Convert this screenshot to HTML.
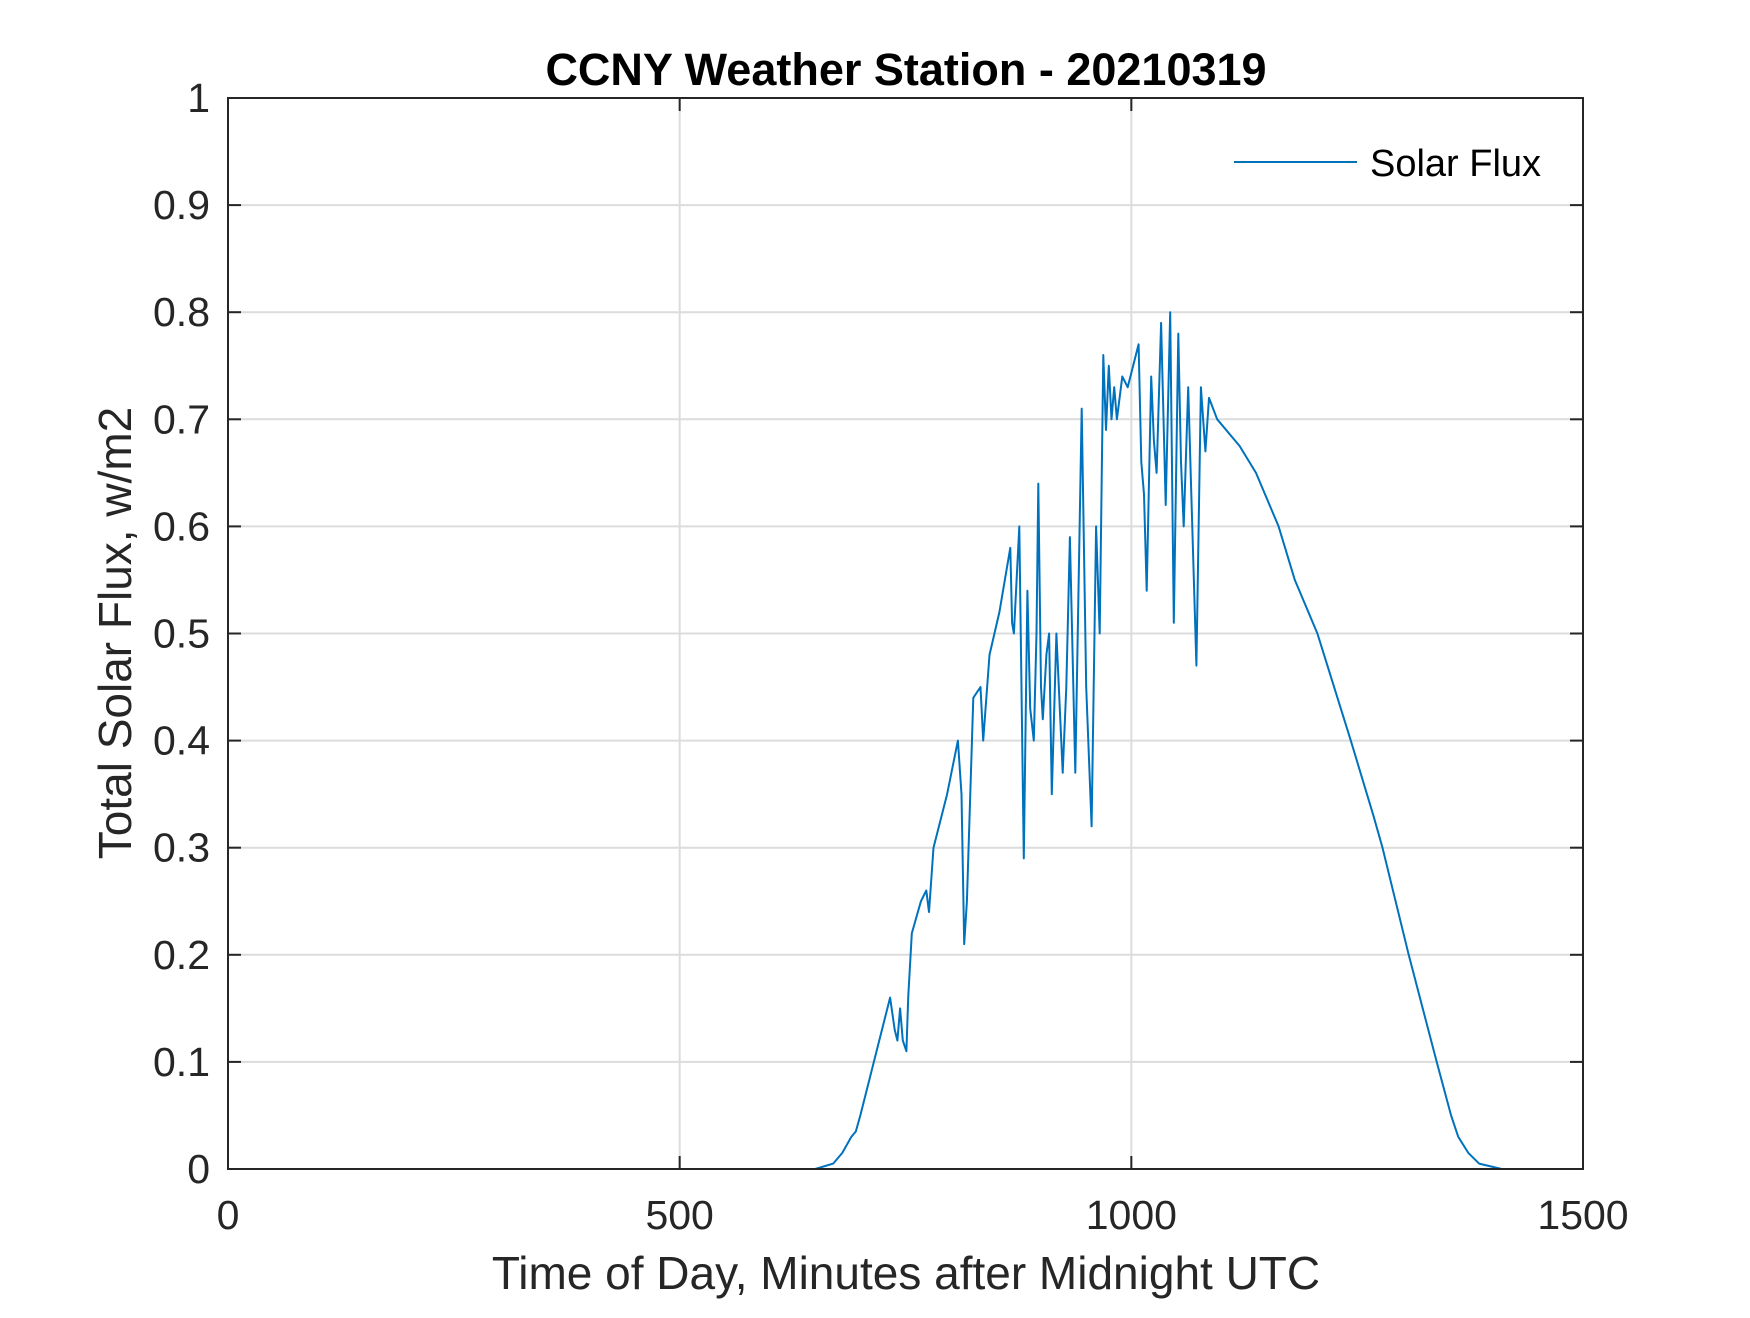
<!DOCTYPE html>
<html><head><meta charset="utf-8"><style>
body{margin:0;background:#fff}
svg text{font-family:"Liberation Sans",Arial,sans-serif;fill:#262626}
</style></head><body>
<svg id="chart" width="1750" height="1313" xmlns="http://www.w3.org/2000/svg">
<rect width="1750" height="1313" fill="#fff"/>
<g id="grid"></g>
<g id="ticks"></g>
<path id="series" fill="none" stroke="#0072BD" stroke-width="2" stroke-linejoin="round"/>
<rect x="228" y="98" width="1355" height="1071" fill="none" stroke="#262626" stroke-width="2"/>
<text x="906" y="85" text-anchor="middle" font-size="45" font-weight="bold" style="fill:#000">CCNY Weather Station - 20210319</text>
<text x="906" y="1289" text-anchor="middle" font-size="46">Time of Day, Minutes after Midnight UTC</text>
<text transform="translate(131,633) rotate(-90)" text-anchor="middle" font-size="46">Total Solar Flux, w/m2</text>
<g>
<line x1="1234" y1="162" x2="1357" y2="162" stroke="#0072BD" stroke-width="2"/>
<text x="1370" y="176" font-size="38" style="fill:#000">Solar Flux</text>
</g>
</svg>
<script>
const xTicks=[0,500,1000,1500];
const yTicks=[0,0.1,0.2,0.3,0.4,0.5,0.6,0.7,0.8,0.9,1];
const yTickLabels=["0","0.1","0.2","0.3","0.4","0.5","0.6","0.7","0.8","0.9","1"];
const minutes=[0,650,670,680,690,695,700,733,738,741,744,747,751,753,757,767,773,776,781,796,808,812,815,818,825,833,836,843,854,866,868,870,873,876,881,885,888,892,895,897,900,902,906,909,912,917,924,928,932,938,945,950,956,961,965,969,972,975,978,981,984,990,996,1008,1011,1014,1017,1022,1025,1028,1033,1038,1043,1047,1052,1055,1058,1063,1066,1072,1077,1082,1086,1095,1120,1138,1163,1181,1206,1243,1268,1278,1307,1338,1354,1362,1373,1385,1410,1441];
const flux=[0,0,0.005,0.015,0.03,0.035,0.05,0.16,0.13,0.12,0.15,0.12,0.11,0.16,0.22,0.25,0.26,0.24,0.3,0.35,0.4,0.35,0.21,0.25,0.44,0.45,0.40,0.48,0.52,0.58,0.51,0.5,0.55,0.6,0.29,0.54,0.43,0.4,0.5,0.64,0.45,0.42,0.48,0.5,0.35,0.5,0.37,0.45,0.59,0.37,0.71,0.45,0.32,0.6,0.5,0.76,0.69,0.75,0.7,0.73,0.7,0.74,0.73,0.77,0.66,0.63,0.54,0.74,0.68,0.65,0.79,0.62,0.8,0.51,0.78,0.66,0.6,0.73,0.64,0.47,0.73,0.67,0.72,0.70,0.675,0.65,0.6,0.55,0.5,0.4,0.33,0.3,0.2,0.1,0.05,0.03,0.015,0.005,0,0];
const L=228,R=1583,T=98,B=1169;
const xs=v=>L+(v/1500)*(R-L);
const ys=v=>B-v*(B-T);
const NS="http://www.w3.org/2000/svg";
const grid=document.getElementById('grid'),ticks=document.getElementById('ticks');
function mk(p,tag,a){const e=document.createElementNS(NS,tag);for(const k in a)e.setAttribute(k,a[k]);p.appendChild(e);return e;}
xTicks.forEach(v=>{const x=xs(v);
 if(v>0&&v<1500){const g=mk(grid,'line',{x1:x,y1:T,x2:x,y2:B,stroke:'#dcdcdc','stroke-width':2});
 
 }
 [[B,B-13],[T,T+13]].forEach(p=>{const t=mk(ticks,'line',{x1:x,y1:p[0],x2:x,y2:p[1],stroke:'#262626','stroke-width':2});
 
 });
 const l=mk(ticks,'text',{x:x,y:1229,'text-anchor':'middle','font-size':41});l.textContent=String(v);
 
 
});
yTicks.forEach((v,i)=>{const y=ys(v);
 if(v>0&&v<1){const g=mk(grid,'line',{x1:L,y1:y,x2:R,y2:y,stroke:'#dcdcdc','stroke-width':2});
 
 }
 [[L,L+13],[R,R-13]].forEach(p=>{const t=mk(ticks,'line',{x1:p[0],y1:y,x2:p[1],y2:y,stroke:'#262626','stroke-width':2});
 
 });
 const l=mk(ticks,'text',{x:210,y:y+14,'text-anchor':'end','font-size':41});l.textContent=yTickLabels[i];
 
 
});
document.getElementById('series').setAttribute('d',minutes.map((m,i)=>(i?'L':'M')+xs(m).toFixed(1)+' '+ys(flux[i]).toFixed(1)).join(' '));
</script>
</body></html>
